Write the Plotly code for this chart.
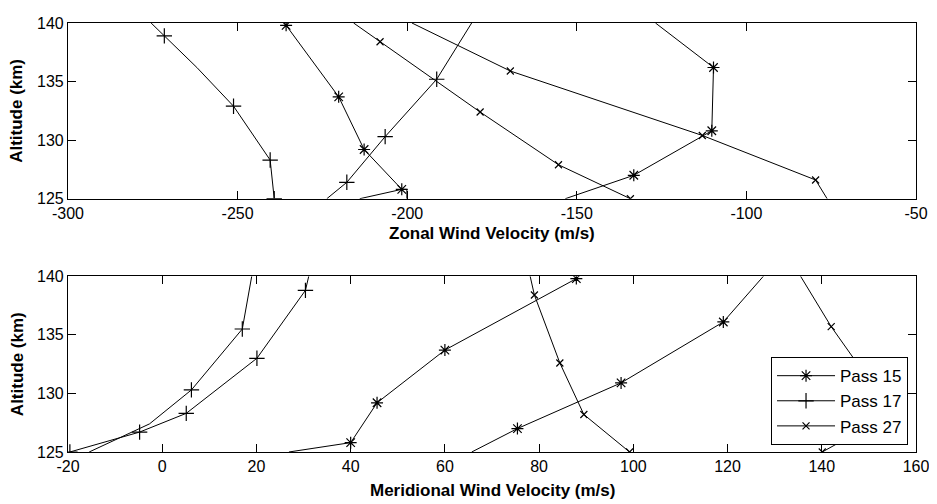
import plotly.graph_objects as go

# ---------------- data ----------------
# Zonal wind (top panel): x = velocity (m/s), y = altitude (km)
z15a_x = [-235.7, -226.6, -220.2, -212.7, -201.6, -200.1, -200.1]
z15a_y = [139.8, 136.2, 133.7, 129.2, 125.8, 125.8, 125.0]
z15a_m = [0, 2, 3, 4]
z15b_x = [-214.0, -201.6]
z15b_y = [125.0, 125.8]
z15b_m = []
z15c_x = [-126.8, -109.7, -110.2, -133.2, -153.4]
z15c_y = [140.0, 136.2, 130.8, 127.0, 125.0]
z15c_m = [1, 2, 3]

z17a_x = [-275.5, -271.6, -262.0, -251.2, -240.4, -239.2]
z17a_y = [140.0, 138.9, 136.2, 132.9, 128.3, 125.0]
z17a_m = [1, 3, 4, 5]
z17b_x = [-223.7, -217.8, -206.5, -191.3, -181.0]
z17b_y = [125.0, 126.4, 130.3, 135.2, 140.0]
z17b_m = [1, 2, 3]

z27a_x = [-215.8, -208.0, -178.5, -155.4, -134.2]
z27a_y = [140.0, 138.4, 132.4, 127.9, 125.0]
z27a_m = [1, 2, 3, 4]
z27b_x = [-198.6, -169.6, -113.0, -79.6, -76.2]
z27b_y = [140.0, 135.9, 130.4, 126.6, 125.0]
z27b_m = [1, 2, 3]

# Meridional wind (bottom panel)
m15a_x = [26.9, 40.0, 45.6, 60.0, 87.9]
m15a_y = [125.0, 125.8, 129.2, 133.7, 139.8]
m15a_m = [1, 2, 3, 4]
m15b_x = [65.7, 75.4, 97.4, 119.1, 127.6]
m15b_y = [125.0, 127.0, 130.9, 136.1, 140.0]
m15b_m = [1, 2, 3]

m17a_x = [19.0, 17.6, 17.0, 6.2, -2.7, -15.5]
m17a_y = [140.0, 136.6, 135.5, 130.3, 127.4, 125.0]
m17a_m = [2, 3]
m17b_x = [31.1, 30.4, 20.1, 5.1, -4.8, -19.6]
m17b_y = [140.0, 138.8, 133.0, 128.3, 126.7, 125.0]
m17b_m = [1, 2, 3, 4, 5]

m27a_x = [78.1, 79.0, 84.4, 89.5, 99.2]
m27a_y = [140.0, 138.4, 132.6, 128.2, 125.0]
m27a_m = [1, 2, 3, 4]
m27b_x = [135.5, 142.0, 150.8, 149.5, 140.1]
m27b_y = [140.0, 135.7, 130.7, 127.1, 125.0]
m27b_m = [1, 2, 3, 4]

zonal_ticks = [-300, -250, -200, -150, -100, -50]
zonal_ticktext = ["-300", "-250", "-200", "-150", "-100", "-50"]
merid_ticks = [-20, 0, 20, 40, 60, 80, 100, 120, 140, 160]
merid_ticktext = ["-20", "0", "20", "40", "60", "80", "100", "120", "140", "160"]
alt_ticks = [125, 130, 135, 140]
alt_ticktext = ["125", "130", "135", "140"]

pass_names = ["Pass 15", "Pass 17", "Pass 27"]
symbols = {"Pass 15": "asterisk-open", "Pass 17": "cross-thin-open", "Pass 27": "x-thin-open"}
msizes = {"Pass 15": 10, "Pass 17": 11, "Pass 27": 7}

FONT = "Liberation Sans, Arial, sans-serif"

fig = go.Figure()


def add_line(xs, ys, marks, pname, xa, ya):
    fig.add_trace(go.Scatter(
        x=xs, y=ys, mode="lines", xaxis=xa, yaxis=ya,
        line=dict(color="black", width=1), showlegend=False, hoverinfo="skip"))
    if marks:
        fig.add_trace(go.Scatter(
            x=[xs[i] for i in marks], y=[ys[i] for i in marks], mode="markers",
            xaxis=xa, yaxis=ya, showlegend=False, hoverinfo="skip",
            marker=dict(symbol=symbols[pname], size=msizes[pname], color="black",
                        line=dict(color="black", width=1.2))))


top = [(z15a_x, z15a_y, z15a_m, "Pass 15"), (z15b_x, z15b_y, z15b_m, "Pass 15"),
       (z15c_x, z15c_y, z15c_m, "Pass 15"), (z17a_x, z17a_y, z17a_m, "Pass 17"),
       (z17b_x, z17b_y, z17b_m, "Pass 17"), (z27a_x, z27a_y, z27a_m, "Pass 27"),
       (z27b_x, z27b_y, z27b_m, "Pass 27")]
bottom = [(m15a_x, m15a_y, m15a_m, "Pass 15"), (m15b_x, m15b_y, m15b_m, "Pass 15"),
          (m17a_x, m17a_y, m17a_m, "Pass 17"), (m17b_x, m17b_y, m17b_m, "Pass 17"),
          (m27a_x, m27a_y, m27a_m, "Pass 27"), (m27b_x, m27b_y, m27b_m, "Pass 27")]

for xs, ys, mk, p in top:
    add_line(xs, ys, mk, p, "x", "y")
for xs, ys, mk, p in bottom:
    add_line(xs, ys, mk, p, "x2", "y2")

# legend entries
for p in pass_names:
    fig.add_trace(go.Scatter(
        x=[None], y=[None], mode="lines+markers", name=p, xaxis="x2", yaxis="y2",
        line=dict(color="black", width=1),
        marker=dict(symbol=symbols[p], size=msizes[p], color="black",
                    line=dict(color="black", width=1.2))))

axis_common = dict(showline=True, linecolor="black", linewidth=1.2, mirror="allticks",
                   ticks="inside", ticklen=8, tickwidth=1, tickcolor="black",
                   showgrid=False, zeroline=False,
                   tickfont=dict(family=FONT, size=16, color="black"))

# page is offset by the body margin (8px); figure sized so the plot areas land
# at the same page pixels as in the reference
W, H = 929, 496
ML, MR, MT, MB = 60, 21, 7, 52
ph = H - MT - MB  # 437
TOP_DOM = [(444 - 186) / ph, 1.0]
BOT_DOM = [0.0, (444 - 265) / ph]

fig.update_layout(
    width=W, height=H,
    margin=dict(l=ML, r=MR, t=MT, b=MB),
    paper_bgcolor="white", plot_bgcolor="white",
    xaxis=dict(range=[-300, -50], domain=[0, 1], anchor="y",
               tickvals=zonal_ticks, ticktext=zonal_ticktext, **axis_common),
    yaxis=dict(range=[125, 140], domain=TOP_DOM, anchor="x",
               tickvals=alt_ticks, ticktext=alt_ticktext, **axis_common),
    xaxis2=dict(range=[-20, 160], domain=[0, 1], anchor="y2",
                tickvals=merid_ticks, ticktext=merid_ticktext, **axis_common),
    yaxis2=dict(range=[125, 140], domain=BOT_DOM, anchor="x2",
                tickvals=alt_ticks, ticktext=alt_ticktext, **axis_common),
    legend=dict(x=0.9906, y=7 / ph, xanchor="right", yanchor="bottom",
                bgcolor="white", bordercolor="black", borderwidth=1,
                font=dict(family=FONT, size=17, color="black"),
                itemwidth=58, tracegroupgap=0),
    showlegend=True,
)

title_font = dict(family=FONT, size=17, color="black")
fig.add_annotation(text="<b>Zonal Wind Velocity (m/s)</b>", xref="paper", yref="paper",
                   x=0.5, y=TOP_DOM[0], yshift=-35, showarrow=False, font=title_font,
                   xanchor="center", yanchor="middle")
fig.add_annotation(text="<b>Meridional Wind Velocity (m/s)</b>", xref="paper", yref="paper",
                   x=0.5, y=BOT_DOM[0], yshift=-38, showarrow=False, font=title_font,
                   xanchor="center", yanchor="middle")
fig.add_annotation(text="<b>Altitude (km)</b>", xref="paper", yref="paper",
                   x=0, xshift=-51, y=(TOP_DOM[0] + TOP_DOM[1]) / 2, textangle=-90,
                   showarrow=False, font=title_font, xanchor="center", yanchor="middle")
fig.add_annotation(text="<b>Altitude (km)</b>", xref="paper", yref="paper",
                   x=0, xshift=-51, y=(BOT_DOM[0] + BOT_DOM[1]) / 2, textangle=-90,
                   showarrow=False, font=title_font, xanchor="center", yanchor="middle")

fig.write_html("out.html")
